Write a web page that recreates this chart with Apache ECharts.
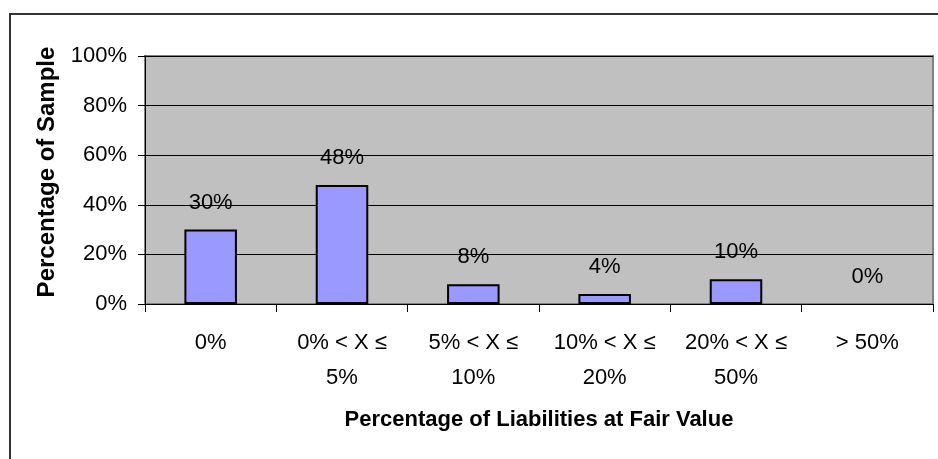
<!DOCTYPE html>
<html>
<head>
<meta charset="utf-8">
<script src="https://cdn.jsdelivr.net/npm/echarts@6/dist/echarts.min.js"></script>
<style>
  html, body { margin: 0; padding: 0; background: #fff; }
  #chart { width: 938px; height: 459px; }
</style>
</head>
<body>
<div id="chart"></div>
<script>
// data
const categories = ["0%", "0% < X ≤\n5%", "5% < X ≤\n10%", "10% < X ≤\n20%", "20% < X ≤\n50%", "> 50%"];
const samplePct = [30, 48, 8, 4, 10, 0];
const yTicks = [0, 20, 40, 60, 80, 100];

const chart = echarts.init(document.getElementById("chart"));
const font = "'Liberation Sans', Arial, sans-serif";

chart.setOption({
  animation: false,
  textStyle: { fontFamily: font },
  graphic: [
    {
      type: "rect",
      shape: { x: 10, y: 14, width: 1000, height: 1000 },
      style: { fill: "none", stroke: "#333", lineWidth: 2 },
      silent: true,
      z: -10
    }
  ],
  grid: {
    left: 145,
    top: 56,
    right: 5,
    bottom: 155,
    show: true,
    backgroundColor: "#c0c0c0",
    borderColor: "#808080",
    borderWidth: 2
  },
  xAxis: {
    type: "category",
    data: categories,
    name: "Percentage of Liabilities at Fair Value",
    nameLocation: "middle",
    nameGap: 105,
    nameTextStyle: { fontSize: 22, fontWeight: "bold", color: "#000", fontFamily: font },
    axisLine: { lineStyle: { color: "#000", width: 1 } },
    axisTick: { show: true, alignWithLabel: false, length: 8, lineStyle: { color: "#000" } },
    axisLabel: { fontSize: 22, color: "#000", lineHeight: 35, margin: 21, interval: 0, fontFamily: font }
  },
  yAxis: {
    type: "value",
    min: yTicks[0],
    max: yTicks[yTicks.length - 1],
    interval: 20,
    name: "Percentage of Sample",
    nameLocation: "middle",
    nameGap: 83,
    nameTextStyle: { fontSize: 24, fontWeight: "bold", color: "#000", fontFamily: font, padding: [0, 0, 0, 16] },
    axisLine: { show: true, lineStyle: { color: "#000" } },
    axisTick: { show: true, length: 7, lineStyle: { color: "#000" } },
    axisLabel: { fontSize: 22, color: "#000", margin: 18, formatter: "{value}%", fontFamily: font },
    splitLine: { show: true, lineStyle: { color: "#000", width: 1 } }
  },
  series: [
    {
      type: "bar",
      data: samplePct.map(v => ({
        value: v,
        itemStyle: v === 0 ? { borderWidth: 0 } : undefined
      })),
      barWidth: "40%",
      itemStyle: { color: "#9999ff", borderColor: "#000", borderWidth: 2 },
      label: {
        show: true,
        position: "top",
        distance: 16,
        formatter: "{c}%",
        fontSize: 22,
        color: "#000",
        fontFamily: font
      }
    }
  ]
});
</script>
</body>
</html>
